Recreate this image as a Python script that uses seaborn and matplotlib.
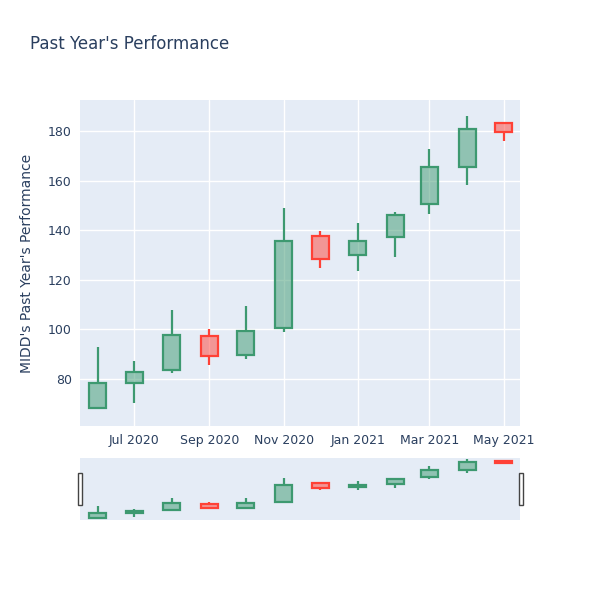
import pandas as pd
import numpy as np
import matplotlib
matplotlib.use("Agg")
import matplotlib.pyplot as plt
import matplotlib.dates as mdates
from matplotlib.patches import Rectangle
import seaborn as sns

# monthly candles
months = ["2020-06-01", "2020-07-01", "2020-08-01", "2020-09-01", "2020-10-01", "2020-11-01",
          "2020-12-01", "2021-01-01", "2021-02-01", "2021-03-01", "2021-04-01", "2021-05-01"]
opens = [68.2, 78.5, 83.6, 97.4, 89.6, 100.7, 137.9, 130.1, 137.4, 150.6, 165.6, 183.3]
highs = [93.0, 87.3, 107.9, 100.3, 109.6, 149.2, 139.9, 142.9, 147.3, 172.8, 186.1, 183.7]
lows = [67.8, 70.2, 82.3, 85.7, 88.2, 99.1, 125.0, 123.8, 129.3, 146.5, 158.2, 176.3]
closes = [78.5, 82.7, 97.7, 89.4, 99.4, 135.6, 128.6, 135.6, 146.4, 165.8, 181.1, 179.9]

df = pd.DataFrame({"date": pd.to_datetime(months), "open": opens, "high": highs,
                   "low": lows, "close": closes})

BG = "#E5ECF6"
TXT = "#2a3f5f"
UP = "#3D9970"
DOWN = "#FF4136"

sns.set_theme(style="darkgrid", rc={"axes.facecolor": BG, "grid.color": "white",
                                    "grid.linewidth": 1.0, "axes.edgecolor": BG})
plt.rcParams["font.family"] = ["DejaVu Sans"]

fig = plt.figure(figsize=(6, 6), dpi=100)
ax = fig.add_axes([80 / 600, 174 / 600, 440 / 600, 326 / 600])
sl = fig.add_axes([80 / 600, 80 / 600, 440 / 600, 62 / 600])


def candles(axis, lw):
    width = pd.Timedelta(days=14)
    for _, r in df.iterrows():
        col = UP if r["close"] >= r["open"] else DOWN
        lo_body = min(r["open"], r["close"])
        hi_body = max(r["open"], r["close"])
        axis.vlines(r["date"], r["low"], lo_body, color=col, lw=lw, zorder=2)
        axis.vlines(r["date"], hi_body, r["high"], color=col, lw=lw, zorder=2)
        axis.bar(r["date"], hi_body - lo_body, bottom=lo_body, width=width,
                 facecolor=matplotlib.colors.to_rgba(col, 0.5), edgecolor=col,
                 linewidth=lw, zorder=3)


candles(ax, 1.6)
candles(sl, 1.6)

xmin = pd.Timestamp("2020-05-17 12:00")
xmax = pd.Timestamp("2021-05-14 12:00")
ax.set_xlim(xmin, xmax)
ax.set_ylim(61, 192.7)
ax.set_yticks([80, 100, 120, 140, 160, 180])
ax.xaxis.set_major_locator(mdates.MonthLocator(bymonth=[1, 3, 5, 7, 9, 11]))
ax.xaxis.set_major_formatter(mdates.DateFormatter("%b %Y"))
ax.tick_params(axis="both", length=0, labelsize=9, colors=TXT, pad=6)
ax.set_xlabel("")
ax.set_ylabel("MIDD's Past Year's Performance", fontsize=10, color=TXT, labelpad=10)
for s in ax.spines.values():
    s.set_visible(False)

sl.set_xlim(xmin, xmax)
sl.set_ylim(64.5, 189)
sl.set_xticks([])
sl.set_yticks([])
sl.grid(False)
for s in sl.spines.values():
    s.set_visible(False)

# range slider handles
for hx in (77.5 / 600, 518.5 / 600):
    fig.patches.append(Rectangle((hx, 95 / 600), 4 / 600, 32 / 600, transform=fig.transFigure,
                                 facecolor="white", edgecolor="#444444", linewidth=1.0))

fig.text(30 / 600, 1 - 44 / 600, "Past Year's Performance", fontsize=12, color=TXT,
         va="center", ha="left")

fig.savefig("out.png", dpi=100, facecolor="white")
